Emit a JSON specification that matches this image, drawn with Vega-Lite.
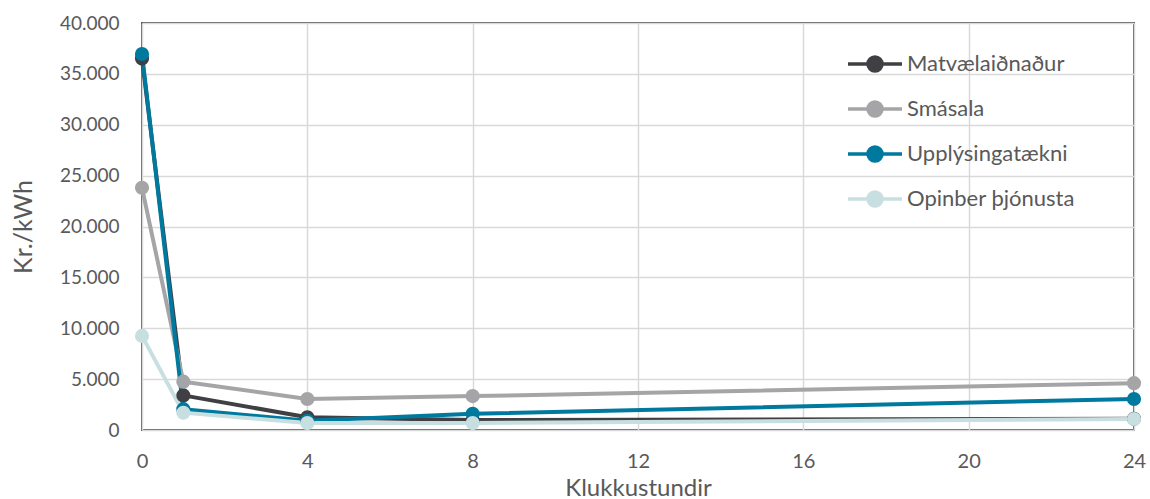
{
  "$schema": "https://vega.github.io/schema/vega-lite/v6.json",
  "autosize": "none",
  "width": 992,
  "height": 407,
  "padding": {"left": 142, "top": 23, "right": 16, "bottom": 69},
  "background": "white",
  "config": {
    "font": "Lato",
    "view": {"stroke": "#595959", "strokeWidth": 2},
    "axis": {"labelFont": "Lato", "titleFont": "Lato", "labelColor": "#595959", "titleColor": "#595959", "titleFontWeight": "normal", "gridColor": "#d9d9d9", "gridWidth": 1.5, "domain": false, "ticks": false}
  },
  "data": {
    "values": [
      {"klst": 0, "flokkur": "Matvælaiðnaður", "verd": 36500},
      {"klst": 1, "flokkur": "Matvælaiðnaður", "verd": 3400},
      {"klst": 4, "flokkur": "Matvælaiðnaður", "verd": 1250},
      {"klst": 8, "flokkur": "Matvælaiðnaður", "verd": 980},
      {"klst": 24, "flokkur": "Matvælaiðnaður", "verd": 1100},
      {"klst": 0, "flokkur": "Smásala", "verd": 23800},
      {"klst": 1, "flokkur": "Smásala", "verd": 4750},
      {"klst": 4, "flokkur": "Smásala", "verd": 3050},
      {"klst": 8, "flokkur": "Smásala", "verd": 3330},
      {"klst": 24, "flokkur": "Smásala", "verd": 4600},
      {"klst": 0, "flokkur": "Upplýsingatækni", "verd": 36950},
      {"klst": 1, "flokkur": "Upplýsingatækni", "verd": 2050},
      {"klst": 4, "flokkur": "Upplýsingatækni", "verd": 900},
      {"klst": 8, "flokkur": "Upplýsingatækni", "verd": 1600},
      {"klst": 24, "flokkur": "Upplýsingatækni", "verd": 3050},
      {"klst": 0, "flokkur": "Opinber þjónusta", "verd": 9250},
      {"klst": 1, "flokkur": "Opinber þjónusta", "verd": 1700},
      {"klst": 4, "flokkur": "Opinber þjónusta", "verd": 680},
      {"klst": 8, "flokkur": "Opinber þjónusta", "verd": 680},
      {"klst": 24, "flokkur": "Opinber þjónusta", "verd": 1080}
    ]
  },
  "mark": {"type": "line", "strokeWidth": 4, "point": {"filled": true, "size": 200, "opacity": 1}},
  "encoding": {
    "x": {
      "field": "klst", "type": "quantitative",
      "scale": {"domain": [0, 24], "nice": false},
      "axis": {"values": [0, 4, 8, 12, 16, 20, 24], "title": "Klukkustundir", "labelFlush": false, "labelFontSize": 20, "labelPadding": 21, "titleFontSize": 24, "titlePadding": 5}
    },
    "y": {
      "field": "verd", "type": "quantitative",
      "scale": {"domain": [0, 40000], "nice": false},
      "axis": {"values": [0, 5000, 10000, 15000, 20000, 25000, 30000, 35000, 40000], "title": "Kr./kWh", "labelFlush": false, "labelFontSize": 19, "labelPadding": 23, "titleFontSize": 25, "titlePadding": 23, "labelExpr": "replace(format(datum.value, ','), ',', '.')"}
    },
    "color": {
      "field": "flokkur", "type": "nominal",
      "scale": {"domain": ["Matvælaiðnaður", "Smásala", "Upplýsingatækni", "Opinber þjónusta"], "range": ["#404044", "#a5a5a8", "#00799f", "#c8dfe1"]},
      "legend": {
        "title": null, "orient": "none", "legendX": 721, "legendY": 29,
        "padding": 0, "symbolSize": 400, "symbolStrokeWidth": 3.5,
        "symbolType": "M-2.7,0H2.7M0.7,0A0.7,0.7 0 1,1 -0.7,0A0.7,0.7 0 1,1 0.7,0Z",
        "labelFontSize": 22, "labelColor": "#595959", "labelFont": "Lato", "labelOffset": 20, "rowPadding": 17, "labelLimit": 300,
        "encode": {"symbols": {"update": {"fill": {"scale": "color", "field": "value"}, "stroke": {"scale": "color", "field": "value"}, "opacity": {"value": 1}}}}
      }
    }
  }
}
